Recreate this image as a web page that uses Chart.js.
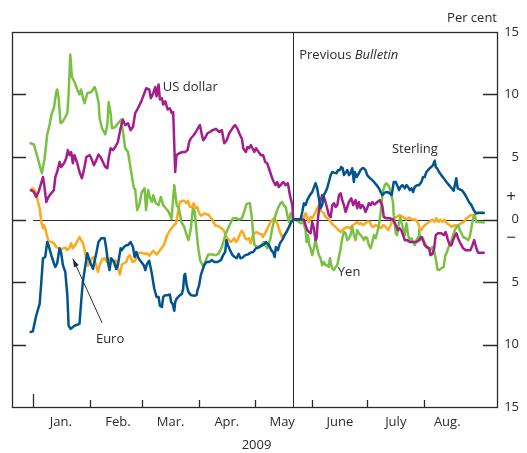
<!DOCTYPE html>
<html>
<head>
<meta charset="utf-8">
<script src="https://cdn.jsdelivr.net/npm/chart.js@4.4.1/dist/chart.umd.min.js"></script>
<style>
  html, body { margin: 0; padding: 0; background: #fff; }
  #chart { display: block; }
</style>
</head>
<body>
<canvas id="chart" width="527" height="453"></canvas>
<script>
// x values are days counted from 1 January 2009, y values per cent change
const monthStarts = [0, 31, 59, 90, 120, 151, 181, 212];
const monthNames = ['Jan.', 'Feb.', 'Mar.', 'Apr.', 'May', 'June', 'July', 'Aug.'];
const monthLabelDays = [15, 46, 74.5, 105, 135, 166.3, 196.6, 224.5];
const yTicks = [-15, -10, -5, 0, 5, 10, 15];
const previousBulletin = 141;

const sterling = [[-1.4,-9.0],[-0.2,-8.95],[1.6,-7.7],[3.5,-6.75],[4.4,-5.0],[5.3,-3.1],[6.5,-3.0],[7.6,-1.8],[8.3,-2.05],[9.8,-2.85],[11.2,-3.5],[12.0,-3.8],[13.0,-3.5],[14.3,-2.3],[15.2,-2.7],[16.1,-3.65],[17.4,-4.2],[18.5,-6.05],[19.2,-8.5],[20.3,-8.75],[22.4,-8.5],[25.1,-8.35],[26.0,-6.6],[26.9,-5.0],[27.9,-4.05],[29.3,-2.7],[30.8,-3.4],[32.4,-3.95],[34.2,-2.7],[35.4,-1.8],[36.9,-1.5],[38.7,-1.5],[39.6,-2.3],[40.5,-3.4],[41.4,-4.05],[42.3,-3.1],[43.8,-3.4],[45.0,-3.95],[45.9,-3.65],[47.4,-2.3],[48.1,-2.45],[49.2,-2.2],[50.5,-2.05],[51.4,-2.05],[52.8,-1.8],[54.1,-2.2],[55.0,-3.0],[55.9,-2.6],[57.1,-3.1],[58.6,-3.4],[59.9,-3.65],[60.8,-4.05],[61.6,-3.6],[62.9,-3.3],[64.3,-4.3],[65.6,-5.5],[66.9,-6.2],[68.0,-6.2],[68.7,-6.9],[69.8,-7.0],[70.5,-6.2],[71.6,-6.05],[72.9,-6.05],[74.1,-6.0],[74.8,-6.6],[75.6,-6.75],[76.5,-7.3],[77.0,-6.6],[77.7,-6.35],[79.2,-6.1],[80.6,-5.95],[81.3,-5.55],[81.9,-4.45],[82.4,-4.35],[83.2,-5.25],[84.2,-5.8],[85.5,-6.05],[87.3,-6.1],[88.6,-6.05],[89.1,-5.65],[90.0,-5.25],[90.9,-4.45],[91.8,-4.05],[92.7,-3.65],[94.0,-3.4],[95.4,-3.4],[96.9,-3.25],[98.2,-3.4],[100.0,-3.4],[101.8,-3.25],[103.0,-2.85],[104.1,-2.6],[104.8,-1.65],[105.6,-2.05],[106.7,-2.45],[108.1,-2.85],[109.2,-3.0],[110.3,-3.1],[111.4,-2.75],[112.4,-3.1],[113.5,-3.05],[115.0,-2.85],[116.4,-2.8],[117.9,-2.65],[119.3,-2.6],[120.8,-2.3],[122.2,-2.25],[123.6,-2.1],[125.1,-2.0],[126.2,-1.8],[127.8,-2.05],[129.1,-2.45],[130.2,-2.65],[130.9,-3.0],[131.6,-2.2],[132.7,-2.45],[133.8,-1.9],[135.0,-1.65],[136.3,-1.25],[137.4,-1.0],[138.7,-0.6],[139.9,-0.2],[141,0],[145.0,0],[145.9,0.6],[146.8,1.3],[147.7,1.15],[148.6,1.55],[150.0,1.95],[151.3,2.2],[152.2,2.55],[153.1,2.9],[154.0,2.5],[154.9,1.7],[155.8,0.9],[156.7,1.15],[157.6,1.95],[158.5,2.2],[159.4,2.5],[160.3,3.0],[161.3,3.55],[162.2,3.8],[163.1,3.75],[164.5,3.7],[165.2,3.95],[166.3,3.95],[167.0,4.2],[167.8,4.1],[168.5,3.55],[169.4,3.75],[170.3,3.95],[171.2,3.55],[172.1,3.7],[173.0,4.1],[173.9,3.0],[174.4,3.8],[175.4,3.4],[176.6,3.7],[177.5,3.95],[178.4,4.1],[179.3,4.1],[180.2,3.95],[181.1,3.55],[182.6,3.3],[183.9,3.15],[184.8,3.0],[186.2,2.75],[187.5,2.5],[188.4,2.2],[189.3,1.95],[190.6,2.15],[191.9,2.2],[193.3,2.1],[194.4,1.95],[195.5,3.0],[196.6,3.0],[197.3,2.75],[198.4,2.35],[199.1,2.6],[200.2,2.75],[201.5,2.5],[202.4,2.75],[203.3,2.6],[204.2,2.35],[205.1,2.5],[206.0,2.2],[206.9,2.6],[208.1,2.75],[209.2,2.75],[210.5,3.0],[211.4,3.4],[212.3,3.4],[213.2,3.8],[214.1,3.95],[215.0,4.1],[215.9,4.2],[216.8,4.35],[217.7,4.7],[218.3,4.2],[219.0,4.1],[220.1,3.8],[221.3,3.55],[222.6,3.3],[224.1,3.0],[225.5,2.75],[226.9,2.5],[228.0,2.3],[229.4,3.3],[230.2,2.5],[231.3,2.4],[232.4,2.35],[233.5,2.15],[234.9,1.8],[236.3,1.4],[237.6,1.15],[238.9,0.75],[240.0,0.5],[241.4,0.55],[243.0,0.55],[244.3,0.55]];

const usDollar = [[-1.1,2.35],[0.4,2.2],[1.6,1.8],[2.9,2.2],[4.0,2.75],[5.3,3.4],[6.2,2.5],[7.1,1.4],[8.3,1.8],[9.8,2.1],[11.2,2.35],[12.0,3.4],[13.0,3.8],[14.3,4.6],[15.2,4.2],[16.7,4.5],[17.9,4.9],[18.8,5.55],[19.7,5.15],[20.6,5.4],[21.5,4.5],[22.4,5.15],[23.9,4.5],[25.1,3.8],[26.4,3.3],[27.5,3.95],[28.8,5.0],[30.6,5.15],[31.5,4.9],[32.9,4.35],[34.2,4.75],[35.4,5.2],[36.5,5.0],[37.8,4.6],[39.1,4.2],[40.2,4.1],[40.9,4.9],[42.0,5.7],[43.2,5.55],[44.5,5.8],[45.9,6.2],[47.4,7.3],[48.6,8.0],[49.9,7.55],[51.4,7.7],[52.8,7.15],[54.1,7.4],[55.3,8.5],[56.8,8.9],[58.6,9.45],[60.0,10.0],[61.3,10.5],[62.9,10.4],[63.8,9.7],[65.1,10.1],[66.2,10.6],[66.9,9.85],[68.0,10.8],[68.7,9.6],[69.8,9.7],[70.5,9.2],[71.6,9.45],[72.9,8.8],[74.1,8.9],[75.2,8.5],[75.9,8.6],[77.0,3.8],[77.7,5.15],[79.2,5.3],[81.0,5.4],[82.4,5.4],[83.7,5.55],[84.6,6.2],[85.5,6.5],[86.8,6.7],[88.2,7.0],[89.7,7.4],[90.4,7.55],[91.5,6.75],[92.2,6.35],[93.3,6.55],[94.5,6.9],[95.8,7.0],[97.3,7.15],[99.1,7.25],[100.9,7.0],[102.3,7.15],[103.6,6.1],[104.8,6.3],[106.3,6.9],[107.4,7.15],[108.5,7.4],[109.5,7.55],[110.8,7.25],[111.7,6.9],[113.2,6.45],[113.9,5.7],[115.3,5.4],[116.2,5.8],[117.1,5.7],[118.0,5.95],[118.9,5.7],[119.9,5.4],[120.8,5.7],[122.2,5.4],[123.5,5.15],[124.7,5.15],[125.8,4.6],[126.9,4.5],[127.8,4.1],[128.7,3.7],[129.6,3.3],[130.5,3.0],[131.4,2.75],[132.3,3.0],[133.2,2.6],[134.1,2.75],[135.6,3.0],[136.9,2.75],[138.1,2.9],[139.2,1.95],[140.5,1.15],[141,0],[146.8,0],[147.7,-0.45],[148.6,-0.85],[149.5,-1.0],[150.4,-1.1],[151.3,-0.2],[152.2,-0.7],[153.1,-1.65],[153.7,-1.5],[154.4,0.1],[155.5,1.4],[156.7,1.95],[157.6,1.8],[158.5,1.4],[159.4,0.9],[160.3,0.35],[161.3,0.2],[162.2,1.15],[163.1,1.3],[164.0,1.0],[164.9,1.15],[165.8,1.95],[166.7,2.1],[167.6,1.55],[168.5,1.15],[169.4,0.6],[170.3,1.0],[171.2,1.4],[172.5,1.7],[173.5,1.15],[174.8,1.55],[175.7,0.9],[176.6,1.4],[177.5,0.9],[178.4,1.15],[179.3,1.0],[180.2,0.6],[181.1,0.9],[182.0,1.3],[183.0,1.15],[183.9,1.4],[185.1,1.2],[186.6,1.4],[188.0,1.55],[189.3,1.1],[190.1,0.2],[191.5,0.1],[193.3,0.1],[195.1,0],[196.6,-0.45],[197.8,-0.85],[198.7,-0.7],[199.6,-0.85],[200.6,-1.25],[201.5,-1.65],[202.7,-1.65],[204.2,-1.8],[206.0,-1.8],[207.8,-1.8],[209.2,-1.65],[210.5,-1.4],[211.4,-1.65],[212.3,-2.05],[213.2,-2.2],[214.7,-2.3],[215.4,-2.85],[216.5,-2.75],[217.4,-2.3],[218.3,-1.25],[219.5,-1.1],[221.3,-1.1],[222.6,-1.25],[223.7,-1.0],[224.9,-1.65],[225.9,-2.05],[226.8,-2.05],[227.7,-1.65],[228.8,-1.25],[229.5,-1.1],[230.4,-1.5],[231.3,-1.8],[232.2,-2.05],[233.1,-2.3],[234.5,-2.45],[235.8,-2.45],[237.1,-2.45],[238.2,-2.05],[239.1,-1.65],[240.3,-2.3],[241.2,-2.65],[243.0,-2.65],[244.3,-2.65]];

const yen = [[-1.4,6.1],[0.4,6.0],[4.7,3.7],[6.2,4.9],[7.6,6.8],[8.9,7.6],[10.1,8.5],[11.2,8.9],[12.5,10.2],[13.0,10.4],[13.8,9.7],[14.8,7.7],[15.9,7.8],[17.4,8.2],[18.5,8.5],[19.2,10.0],[20.1,13.2],[21.0,11.4],[22.4,11.0],[23.9,10.4],[25.1,10.0],[26.0,10.4],[27.0,9.7],[27.9,9.3],[29.3,10.1],[31.5,10.2],[33.3,10.6],[34.4,10.1],[35.5,9.3],[36.0,8.1],[37.3,7.3],[39.1,6.8],[40.2,7.6],[40.9,9.4],[42.0,8.5],[42.7,7.3],[44.5,7.4],[46.0,7.7],[47.7,8.0],[48.8,6.9],[49.9,5.7],[51.4,5.4],[52.8,4.1],[54.6,2.5],[55.3,2.4],[56.4,0.75],[57.5,1.15],[58.9,2.2],[60.4,2.5],[61.2,0.75],[62.3,2.35],[63.2,1.8],[64.4,1.4],[65.1,1.95],[66.5,1.3],[68.0,1.15],[69.2,1.8],[70.5,1.15],[71.9,0.9],[73.5,0.6],[75.0,0.05],[76.5,2.75],[77.8,1.15],[79.0,0.9],[80.3,-0.2],[81.9,-0.6],[83.2,-1.25],[84.2,-1.65],[85.5,-0.7],[86.6,0.9],[87.6,0.6],[88.6,-1.0],[89.6,-2.4],[90.6,-3.3],[92.3,-3.8],[93.5,-3.3],[94.9,-2.8],[97.0,-2.8],[99.0,-2.85],[100.5,-2.75],[102.3,-2.2],[104.5,-1.1],[106.3,-0.5],[108.3,0.1],[109.9,0.1],[111.7,0.0],[113.2,0.1],[114.4,0.6],[115.7,1.25],[117.5,1.3],[118.6,0.1],[119.3,-1.25],[120.0,-2.05],[121.7,-2.2],[123.5,-2.1],[125.1,-1.8],[126.0,-2.05],[126.9,-2.3],[127.8,-1.9],[128.7,-1.5],[129.6,-0.7],[130.5,-0.2],[131.4,0.35],[132.7,0.9],[134.1,1.3],[135.0,1.4],[135.9,1.15],[136.9,1.0],[137.8,0.35],[138.7,-0.2],[139.6,0.5],[140.5,0.2],[141,0],[143.2,-0.1],[145.0,-0.3],[146.4,-0.2],[147.7,-0.85],[148.2,-1.8],[149.0,-1.25],[149.7,-2.05],[150.4,-2.3],[151.3,-2.85],[152.2,-2.3],[153.1,-1.65],[154.0,-2.3],[154.9,-2.85],[155.8,-3.1],[156.7,-3.65],[157.6,-3.4],[158.5,-3.65],[159.4,-3.65],[160.3,-3.8],[160.9,-3.1],[161.6,-3.65],[162.2,-3.9],[163.1,-4.05],[164.0,-3.8],[164.9,-3.65],[165.8,-3.0],[166.7,-2.3],[167.6,-1.5],[168.5,-1.0],[169.4,-1.1],[170.3,-1.65],[171.2,-1.5],[172.1,-1.25],[173.0,-0.6],[173.9,-1.25],[174.8,-1.65],[175.7,-0.85],[176.6,-1.1],[177.5,-1.25],[178.4,-1.4],[179.3,-1.65],[180.2,-1.4],[181.1,-1.5],[182.0,-2.05],[183.0,-2.3],[183.9,-1.8],[184.8,-1.25],[185.7,-1.5],[186.6,-1.0],[187.5,-0.45],[188.7,0.9],[189.5,2.2],[190.6,2.75],[191.5,2.9],[192.4,2.75],[193.3,2.5],[194.2,1.95],[195.1,1.4],[195.5,0.35],[196.6,-1.1],[197.3,-1.25],[198.4,-0.2],[199.1,0.2],[199.6,-0.2],[200.6,-0.7],[201.5,-1.25],[202.4,-0.3],[203.3,-1.25],[204.2,-1.65],[205.1,-1.5],[206.0,-1.8],[206.9,-2.05],[207.8,-1.65],[208.7,-1.4],[209.2,-0.85],[209.9,-1.65],[211.0,-1.4],[212.3,-1.9],[214.1,-2.3],[215.4,-2.45],[216.5,-2.2],[217.2,-2.3],[217.9,-2.85],[218.6,-3.4],[219.2,-4.0],[220.1,-4.05],[221.3,-3.9],[222.6,-3.8],[223.5,-2.85],[224.4,-2.6],[225.1,-2.25],[225.9,-2.05],[226.8,-1.65],[227.7,-1.25],[228.6,-0.85],[229.5,-0.6],[230.4,-0.45],[231.3,-0.85],[232.2,-1.1],[233.1,-1.4],[234.5,-1.5],[235.8,-1.65],[236.7,-1.4],[237.6,-0.7],[238.5,0.1],[239.4,0.35],[240.3,-0.2],[242.1,-0.2],[244.3,-0.25]];

const euro = [[-1.4,2.35],[-0.2,2.5],[0.7,2.35],[1.6,2.15],[2.6,1.4],[3.5,0.9],[4.4,-0.2],[5.3,-0.7],[5.8,-0.45],[6.5,-0.7],[7.4,-1.25],[8.3,-1.75],[9.8,-1.8],[11.2,-1.9],[12.5,-2.2],[13.8,-2.3],[14.8,-2.5],[16.1,-2.3],[17.4,-2.25],[18.5,-2.45],[19.7,-2.25],[20.6,-1.9],[21.5,-2.3],[22.8,-2.05],[24.2,-1.65],[25.1,-1.4],[26.0,-1.65],[27.0,-1.9],[27.9,-2.45],[28.8,-3.25],[29.7,-3.7],[30.8,-3.4],[31.8,-3.1],[32.9,-3.0],[34.0,-3.6],[35.1,-4.2],[36.2,-3.6],[37.3,-3.2],[38.7,-3.1],[39.8,-3.35],[40.9,-3.1],[42.3,-3.4],[43.4,-3.25],[44.9,-3.3],[45.9,-3.9],[47.0,-4.4],[48.1,-3.6],[49.2,-3.5],[50.5,-3.4],[51.4,-3.0],[52.4,-2.85],[53.9,-3.4],[55.3,-3.3],[56.4,-2.75],[57.7,-2.65],[58.9,-2.65],[60.4,-2.75],[61.5,-2.7],[63,-2.9],[65,-2.5],[67,-2.8],[69,-2.4],[71,-2.0],[72.5,-1.3],[74,-0.9],[76,-0.5],[77.5,-0.3],[78.5,0.6],[79.5,1.4],[81,1.5],[82,1.5],[83,1.3],[84,1.5],[85,1.0],[86,1.0],[87,1.3],[88,0.9],[89,1.0],[90,0.5],[91,0.3],[92,0.4],[93,0.5],[94,0.4],[95,0.4],[96,0.2],[97,0.0],[98,-0.3],[99,-0.5],[100,-0.5],[101,-0.6],[102,-0.7],[103,-0.8],[104,-1.1],[105,-1.5],[106,-1.6],[107,-1.8],[108,-1.7],[109,-1.5],[110,-1.8],[111,-1.6],[112,-1.2],[113,-0.9],[114,-1.1],[115,-1.5],[116,-1.6],[117,-1.5],[118,-1.9],[119,-1.3],[120,-1.1],[121,-1.0],[122,-1.1],[124,-1.2],[124.5,-1.4],[126.5,-0.9],[128.7,-0.2],[130.5,0.1],[132.3,-0.3],[134.1,-1.1],[135.0,-1.4],[136.9,-1.1],[138.7,-0.6],[140.0,-0.2],[141,0],[144.1,0.05],[145.9,0],[146.8,0.2],[147.7,0.5],[148.6,0.1],[149.5,-0.2],[150.4,0.2],[151.3,0.1],[152.2,0.35],[153.1,0.6],[154.0,0.9],[154.9,1.15],[155.8,0.75],[156.7,0.6],[157.6,0.5],[158.5,0.2],[159.4,0.1],[160.3,0],[161.3,-0.2],[162.7,-0.45],[164.0,-0.6],[165.2,-0.8],[166.7,-1.0],[167.8,-0.85],[168.8,-0.7],[170.3,-0.6],[171.4,-0.7],[172.5,-0.55],[173.5,-0.45],[174.8,-0.3],[175.7,-0.2],[176.8,-0.35],[177.9,-0.3],[179.0,-0.45],[180.2,-0.3],[181.5,-0.15],[182.6,-0.2],[183.3,-0.5],[184.4,-0.6],[185.8,-0.45],[187.5,-0.6],[188.7,-0.7],[189.7,-0.45],[191.2,-0.6],[192.4,-0.85],[193.7,-0.5],[195.1,0],[196.9,0.2],[198.7,0.35],[200.6,0.2],[202.4,0],[203.8,0.15],[205.3,0],[207.4,0],[208.7,-0.3],[209.6,-0.7],[210.5,-0.85],[211.4,-0.6],[212.8,-0.4],[214.7,-0.2],[216.5,0],[217.7,-0.2],[218.6,0.1],[219.7,-0.2],[220.8,0],[221.9,-0.2],[223.0,0],[224.1,-0.3],[225.9,-0.45],[227.0,-0.6],[228.4,-0.45],[230.2,-0.5],[232.0,-0.3],[233.5,-0.2],[234.9,0.1],[236.0,0.2],[237.1,0.35],[238.5,0.35],[240.3,0.45],[242.1,0.5],[244.3,0.5]];

// series names, anchored at (day, per cent)
const seriesNotes = [
  { text: 'US dollar', day: 70.3, value: 10.6 },
  { text: 'Sterling', day: 194.5, value: 5.6 },
  { text: 'Yen', day: 165.2, value: -4.2 },
  { text: 'Euro', day: 34, value: -9.55 }
];

const FONT = '"Open Sans", "DejaVu Sans", sans-serif';
const INK = '#2b2b2b';

function toPoints(series) {
  return series.map(p => ({ x: p[0], y: p[1] }));
}

const frame = {
  id: 'frame',
  beforeDatasetsDraw(chart) {
    const { ctx, chartArea: a, scales: { x, y } } = chart;
    ctx.save();
    ctx.strokeStyle = INK;
    ctx.lineWidth = 1;
    ctx.beginPath();
    const y0 = Math.round(y.getPixelForValue(0)) + 0.5;
    ctx.moveTo(x.getPixelForValue(0), y0);
    ctx.lineTo(a.right, y0);
    const xb = Math.round(x.getPixelForValue(previousBulletin)) + 0.5;
    ctx.moveTo(xb, a.top);
    ctx.lineTo(xb, a.bottom);
    ctx.stroke();
    ctx.restore();
  },
  afterDatasetsDraw(chart) {
    const { ctx, chartArea: a, scales: { x, y } } = chart;
    ctx.save();
    ctx.strokeStyle = INK;
    ctx.lineWidth = 1.3;
    ctx.strokeRect(a.left + 0.5, a.top + 0.5, a.right - a.left, a.bottom - a.top);

    // inward tick marks
    ctx.beginPath();
    yTicks.filter(v => Math.abs(v) < 15).forEach(v => {
      const py = Math.round(y.getPixelForValue(v)) + 0.5;
      ctx.moveTo(a.left, py); ctx.lineTo(a.left + 14, py);
      ctx.moveTo(a.right - 14, py); ctx.lineTo(a.right, py);
    });
    monthStarts.forEach((d, i) => {
      const px = Math.round(x.getPixelForValue(d)) + 0.5;
      ctx.moveTo(px, a.bottom);
      ctx.lineTo(px, a.bottom - (i === 0 ? 13 : 7));
    });
    ctx.stroke();

    ctx.fillStyle = INK;
    ctx.font = '13px ' + FONT;
    ctx.textBaseline = 'middle';

    ctx.textAlign = 'right';
    ctx.fillText('Per cent', a.right, 18);

    ctx.textAlign = 'center';
    // year under the month labels
    ctx.fillText('2009', (a.left + a.right) / 2 + 2, a.bottom + 38);

    ctx.font = '17px ' + FONT;
    ctx.fillText('+', a.right + 14, y.getPixelForValue(1.75));
    ctx.fillText('\u2212', a.right + 14, y.getPixelForValue(-1.5));
    ctx.font = '13px ' + FONT;

    ctx.textAlign = 'left';
    seriesNotes.forEach(n => {
      ctx.fillText(n.text, x.getPixelForValue(n.day), y.getPixelForValue(n.value));
    });

    // Previous Bulletin, with the title in italics
    const px = x.getPixelForValue(previousBulletin) + 6;
    const py = y.getPixelForValue(13.15);
    ctx.fillText('Previous ', px, py);
    const w = ctx.measureText('Previous ').width;
    ctx.font = 'italic 13px ' + FONT;
    ctx.fillText('Bulletin', px + w, py);

    // arrow pointing from the Euro label to its line
    const x1 = x.getPixelForValue(37.3), y1 = y.getPixelForValue(-8.26);
    const x2 = x.getPixelForValue(21.5), y2 = y.getPixelForValue(-3.13);
    ctx.lineWidth = 1;
    ctx.beginPath();
    ctx.moveTo(x1, y1);
    ctx.lineTo(x2, y2);
    ctx.stroke();
    const ang = Math.atan2(y2 - y1, x2 - x1);
    ctx.beginPath();
    ctx.moveTo(x2, y2);
    ctx.lineTo(x2 - 9 * Math.cos(ang - 0.3), y2 - 9 * Math.sin(ang - 0.3));
    ctx.lineTo(x2 - 9 * Math.cos(ang + 0.3), y2 - 9 * Math.sin(ang + 0.3));
    ctx.closePath();
    ctx.fill();
    ctx.restore();
  }
};

new Chart(document.getElementById('chart'), {
  type: 'line',
  data: {
    datasets: [
      { label: 'Sterling', data: toPoints(sterling), borderColor: '#00558f' },
      { label: 'US dollar', data: toPoints(usDollar), borderColor: '#a61c8a' },
      { label: 'Yen', data: toPoints(yen), borderColor: '#7ac143' },
      { label: 'Euro', data: toPoints(euro), borderColor: '#fbaa1f' }
    ]
  },
  options: {
    responsive: false,
    animation: false,
    devicePixelRatio: 1,
    layout: { padding: { left: 12, top: 32, right: 8, bottom: 0 } },
    elements: {
      point: { radius: 0 },
      line: { borderWidth: 2.5, tension: 0, borderJoinStyle: 'round', borderCapStyle: 'round', fill: false }
    },
    plugins: { legend: { display: false }, tooltip: { enabled: false } },
    scales: {
      x: {
        type: 'linear',
        min: -11.5,
        max: 251.5,
        afterBuildTicks: s => { s.ticks = monthLabelDays.map(v => ({ value: v })); },
        ticks: {
          callback: (v, i) => monthNames[i],
          autoSkip: false,
          maxRotation: 0,
          padding: 7,
          color: INK,
          font: { family: FONT, size: 13 }
        },
        grid: { display: false, drawTicks: false },
        border: { display: false },
        afterFit: s => { s.height = 46; }
      },
      y: {
        position: 'right',
        min: -15,
        max: 15,
        afterBuildTicks: s => { s.ticks = yTicks.map(v => ({ value: v })); },
        ticks: {
          callback: v => Math.abs(v),
          crossAlign: 'far',
          padding: 0,
          color: INK,
          font: { family: FONT, size: 13 }
        },
        grid: { display: false, drawTicks: false },
        border: { display: false },
        afterFit: s => { s.width = 22; }
      }
    }
  },
  plugins: [frame]
});
</script>
</body>
</html>
